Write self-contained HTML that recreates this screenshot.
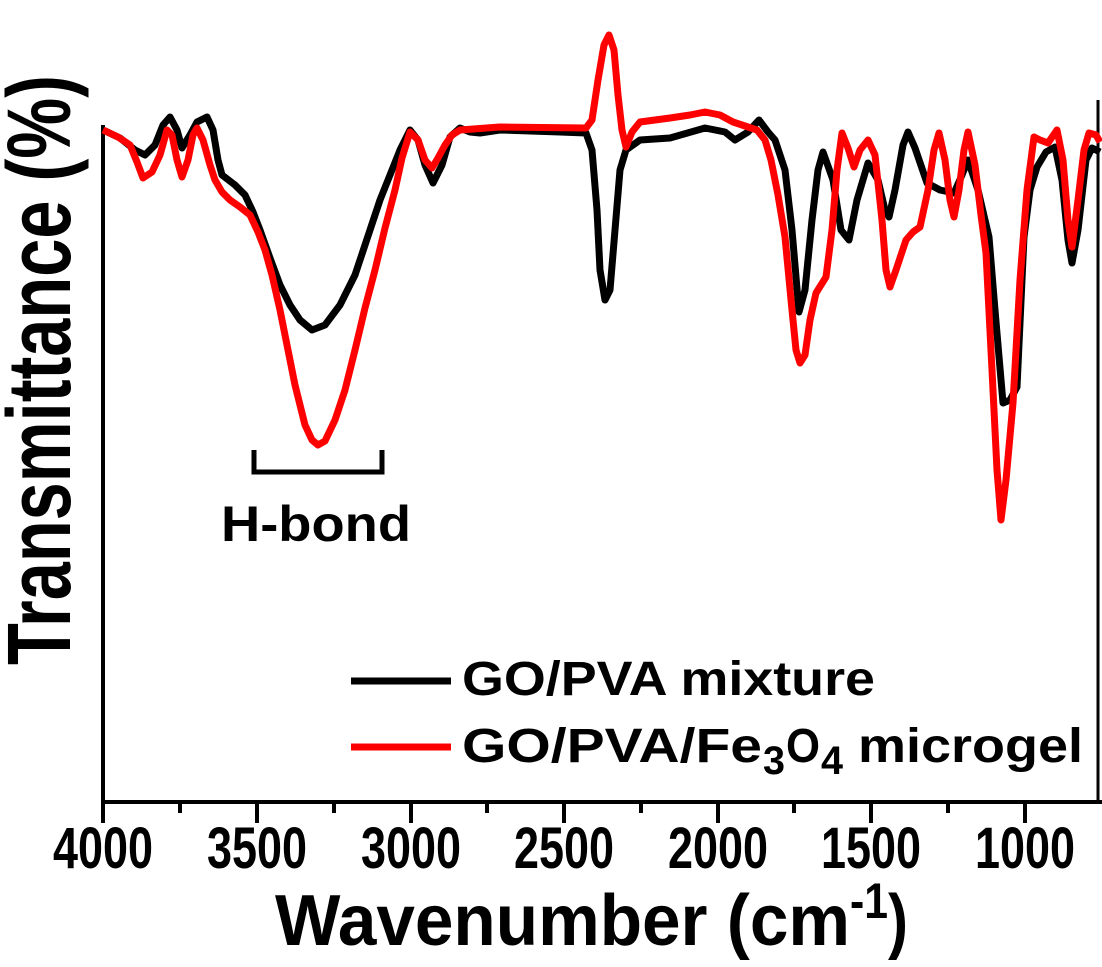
<!DOCTYPE html>
<html><head><meta charset="utf-8"><style>
html,body{margin:0;padding:0;background:#fff;}
svg{display:block;}
text{font-family:"Liberation Sans",Arial,sans-serif;font-weight:bold;fill:#000;}
</style></head><body>
<svg width="1102" height="967" viewBox="0 0 1102 967" xmlns="http://www.w3.org/2000/svg">
<rect width="1102" height="967" fill="#fff"/>
<line x1="103" y1="125" x2="103" y2="804" stroke="#000" stroke-width="4"/>
<line x1="101" y1="802" x2="1102" y2="802" stroke="#000" stroke-width="4"/>
<line x1="1098" y1="100" x2="1098" y2="804" stroke="#000" stroke-width="3"/>
<g stroke="#000" stroke-width="4">
<line x1="103" y1="802" x2="103" y2="823"/><line x1="257" y1="802" x2="257" y2="823"/>
<line x1="411" y1="802" x2="411" y2="823"/><line x1="564" y1="802" x2="564" y2="823"/>
<line x1="718" y1="802" x2="718" y2="823"/><line x1="871" y1="802" x2="871" y2="823"/>
<line x1="1025" y1="802" x2="1025" y2="823"/>
<line x1="180" y1="802" x2="180" y2="813"/><line x1="334" y1="802" x2="334" y2="813"/>
<line x1="487" y1="802" x2="487" y2="813"/><line x1="641" y1="802" x2="641" y2="813"/>
<line x1="794" y1="802" x2="794" y2="813"/><line x1="948" y1="802" x2="948" y2="813"/>
</g>
<g font-size="58" text-anchor="middle">
<text x="103" y="868" textLength="100" lengthAdjust="spacingAndGlyphs">4000</text>
<text x="257" y="868" textLength="100" lengthAdjust="spacingAndGlyphs">3500</text>
<text x="411" y="868" textLength="100" lengthAdjust="spacingAndGlyphs">3000</text>
<text x="564" y="868" textLength="100" lengthAdjust="spacingAndGlyphs">2500</text>
<text x="718" y="868" textLength="100" lengthAdjust="spacingAndGlyphs">2000</text>
<text x="871" y="868" textLength="100" lengthAdjust="spacingAndGlyphs">1500</text>
<text x="1025" y="868" textLength="100" lengthAdjust="spacingAndGlyphs">1000</text>
</g>
<text x="275" y="945" font-size="72" textLength="575" lengthAdjust="spacingAndGlyphs">Wavenumber (cm</text>
<text x="850" y="918" font-size="50" textLength="38" lengthAdjust="spacingAndGlyphs">-1</text>
<text x="888" y="945" font-size="72" textLength="20" lengthAdjust="spacingAndGlyphs">)</text>
<text transform="translate(70,665) rotate(-90)" font-size="90" textLength="590" lengthAdjust="spacingAndGlyphs">Transmittance (%)</text>
<polyline fill="none" stroke="#000" stroke-width="7" stroke-linejoin="round" points="103,130 120,138 135,150 145,155 155,145 163,125 170,117 177,130 182,148 190,135 197,122 207,117 213,130 218,160 222,175 235,185 245,195 253,212 260,230 270,258 280,285 290,305 300,320 312,330 325,325 340,305 355,275 370,230 380,200 390,175 400,150 410,130 418,140 425,165 433,183 442,165 450,137 460,128 470,132 480,133 500,130 560,132 586,133 592,150 597,210 600,270 605,300 610,290 615,230 620,170 626,150 640,140 670,138 705,128 725,132 735,140 748,132 759,120 768,132 775,140 785,170 792,230 799,312 805,290 812,220 818,170 823,152 833,180 841,230 849,240 857,200 868,163 878,180 885,210 889,217 895,190 903,145 908,132 915,148 927,183 940,190 954,193 962,175 968,160 978,190 989,237 995,310 1003,403 1010,400 1017,387 1024,237 1030,190 1037,167 1046,152 1055,147 1062,180 1068,240 1072,263 1078,230 1086,160 1092,148 1100,152"/>
<polyline fill="none" stroke="#f00" stroke-width="7" stroke-linejoin="round" points="103,130 118,137 130,145 137,162 143,178 152,172 160,155 167,130 172,135 177,160 182,177 188,160 193,135 197,128 203,140 210,165 215,180 222,192 230,200 240,207 250,215 258,232 265,250 272,275 280,310 288,350 295,385 300,405 305,425 312,440 318,445 325,441 335,420 345,390 355,350 365,308 375,270 385,228 395,190 402,158 410,132 418,140 425,160 432,168 438,158 445,145 452,135 460,130 500,127 586,128 592,120 598,80 604,45 609,35 614,50 618,95 622,130 626,147 632,132 640,122 670,118 690,115 705,112 720,115 733,122 745,126 757,130 765,140 771,160 778,195 785,237 792,310 796,350 800,363 805,355 810,320 816,293 826,277 832,230 837,170 842,133 848,148 854,167 860,150 868,140 875,155 882,220 886,270 890,287 896,270 906,240 913,232 920,227 928,190 934,150 939,133 945,160 950,200 954,217 959,190 964,150 968,132 975,165 981,215 986,253 992,370 997,470 1001,520 1006,480 1013,403 1020,280 1027,190 1034,137 1040,140 1048,143 1057,130 1063,160 1068,220 1072,247 1078,200 1084,150 1089,133 1096,135 1100,142"/>
<path d="M254,450 V472 H382 V450" fill="none" stroke="#000" stroke-width="5"/>
<text x="221" y="541" font-size="50" textLength="190" lengthAdjust="spacingAndGlyphs">H-bond</text>
<line x1="351" y1="681" x2="451" y2="681" stroke="#000" stroke-width="7"/>
<line x1="351" y1="747" x2="451" y2="747" stroke="#f00" stroke-width="7"/>
<text x="462" y="695" font-size="48" textLength="413" lengthAdjust="spacingAndGlyphs">GO/PVA mixture</text>
<text x="462" y="762" font-size="48" textLength="300" lengthAdjust="spacingAndGlyphs">GO/PVA/Fe</text>
<text x="763" y="774" font-size="40" textLength="22" lengthAdjust="spacingAndGlyphs">3</text>
<text x="786" y="762" font-size="48" textLength="34" lengthAdjust="spacingAndGlyphs">O</text>
<text x="821" y="774" font-size="40" textLength="22" lengthAdjust="spacingAndGlyphs">4</text>
<text x="858" y="762" font-size="48" textLength="225" lengthAdjust="spacingAndGlyphs">microgel</text>
</svg>
</body></html>
